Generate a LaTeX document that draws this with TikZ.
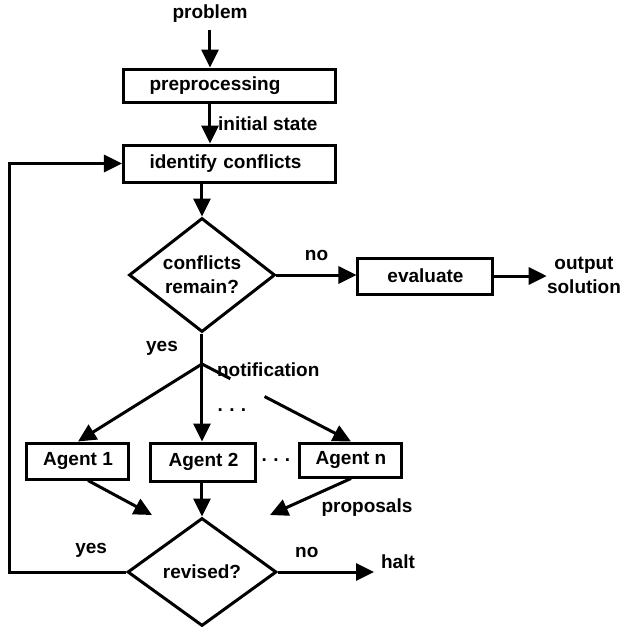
\documentclass[tikz,border=0pt]{standalone}
\usepackage{fontspec}
\setmainfont{Liberation Sans}
\usepackage{tikz}
\usetikzlibrary{shapes.geometric, arrows.meta, positioning, calc}

\tikzset{
    every node/.style={font=\fontsize{9.5}{12}\selectfont\bfseries},
    flow/.style={line width=1.5pt, -{Triangle[length=9pt,width=8.5pt]}},
    plain/.style={line width=1.5pt},
    wbox/.style={draw, line width=1.5pt, text width=80pt, inner xsep=13pt, align=left},
    agent/.style={draw, line width=1.5pt, minimum width=51pt, minimum height=18pt},
    decide/.style={draw, diamond, line width=1.5pt, inner sep=0pt, align=center},
}

\begin{document}
\begin{tikzpicture}[x=0.5pt, y=-0.5pt]
            \useasboundingbox (0,0) rectangle (634,627);

            \node (problem) at (210,14) {problem};
            \node[wbox, minimum height=16.5pt] (pre) at (229.5,85.5) {preprocessing};
            \node[wbox, minimum height=18.5pt] (ident) at (229.5,163.5) {identify conflicts};

            \node[decide, minimum width=73pt, minimum height=57pt, aspect=1.28] (conf) at (202,275) {conflicts\\remain?};
            \node[draw, line width=1.5pt, minimum width=67.5pt, minimum height=18pt] (eval) at (425.5,276) {evaluate};
            \node[inner sep=0pt, align=center] (out) at (584,275) {output\\solution};

            \coordinate (br) at (202,364);% notification fork

            \node[agent] (a1) at (78,461) {Agent 1};
            \node[agent, minimum width=52.5pt, minimum height=19pt] (a2) at (203.5,462) {Agent 2};
            \node[agent, minimum height=17pt] (an) at (351,460) {Agent n};

            \node (dots1) at (232,410) {.\,\,.\,\,.};
            \node (dots2) at (276,460) {.\,\,.\,\,.};

            \coordinate (p1) at (152,515);
            \coordinate (pn) at (270,515);

            \node[decide, minimum width=74.5pt, minimum height=54pt] (rev) at (202,572) {revised?};
            \node (halt) at (398,562) {halt};
            \coordinate (loop) at (10,572);

            % main line
            \draw[flow] (problem) -- (problem |- pre.north);
            \draw[flow] (pre.south -| problem) -- node[right] {initial state} (ident.north -| problem);
            \draw[flow] (ident.south -| conf) -- (conf.north);
            \draw[flow] (conf.east) -- node[above=3pt] {no} (conf.east -| eval.west);
            \draw[flow] (eval.east) -- (eval.east -| out.west);

            % fork to the agents
            \draw[plain] (conf.south) -- node[left=8pt] {yes} (br);
            \node[right=4pt of br, yshift=-3pt] (note) {notification};
            \draw[flow] (br) -- (a1.north);
            \draw[flow] (br) -- (a2.north -| br);
            \draw[plain] (br) -- ($(br)!0.19!(an.north)$);
            \draw[flow] ($(br)!0.42!(an.north)$) -- (an.north);

            % proposals
            \draw[flow] ($(a1.south)+(10,0)$) -- (p1);
            \draw[flow] (a2.south -| br) -- (rev.north);
            \draw[flow] (an.south) -- (pn);
            \node (prop) at (367,508) {proposals};

            % revised?
            \draw[flow] (rev.west) -- node[above=3pt, pos=0.3] {yes} (loop) |- (ident.west);
            \draw[flow] (rev.east) -- node[above=3pt, pos=0.3] {no} (rev.east -| halt.west);
        \end{tikzpicture}
\end{document}
